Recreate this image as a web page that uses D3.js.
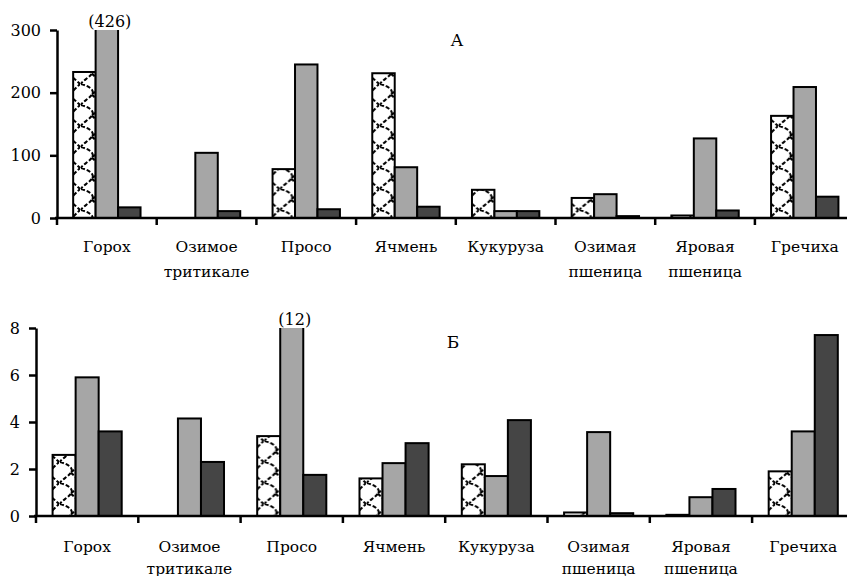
<!DOCTYPE html>
<html>
<head>
<meta charset="utf-8">
<script src="https://cdnjs.cloudflare.com/ajax/libs/d3/7.8.5/d3.min.js"></script>
<style>
  html, body { margin: 0; padding: 0; background: #fff; }
  svg { display: block; }
  text { font-family: "DejaVu Serif", "Liberation Serif", serif; fill: #000; }
</style>
</head>
<body>
<svg id="chart" width="847" height="576"></svg>
<script>
// Crops (categories)
const categories = [
  ["Горох"], ["Озимое", "тритикале"], ["Просо"], ["Ячмень"],
  ["Кукуруза"], ["Озимая", "пшеница"], ["Яровая", "пшеница"], ["Гречиха"]
];
const seriesKeys = ["s1", "s2", "s3"];

// Panel А values
const panelA_s1 = [233, 0, 78, 231, 45, 32, 4, 163];
const panelA_s2 = [426, 104, 245, 81, 11, 38, 127, 209];
const panelA_s3 = [17, 11, 14, 18, 11, 3, 12, 34];
const panelA_ticks = [0, 100, 200, 300];

// Panel Б values
const panelB_s1 = [2.6, 0, 3.4, 1.6, 2.2, 0.15, 0.05, 1.9];
const panelB_s2 = [5.9, 4.15, 12, 2.25, 1.7, 3.57, 0.8, 3.6];
const panelB_s3 = [3.6, 2.3, 1.75, 3.1, 4.08, 0.12, 1.15, 7.7];
const panelB_ticks = [0, 2, 4, 6, 8];

const svg = d3.select("#chart");
const defs = svg.append("defs");

// Wavy dashed scale-like hatching for the first series
const pat = defs.append("pattern")
  .attr("id", "scales")
  .attr("patternUnits", "userSpaceOnUse")
  .attr("width", 23).attr("height", 21);
pat.append("rect").attr("width", 23).attr("height", 21).attr("fill", "#fff");
pat.append("path")
  .attr("d", "M1,0 C9,2 15,6 12,10.5 C9,15 3,17 1,21")
  .attr("fill", "none").attr("stroke", "#000")
  .attr("stroke-width", 2).attr("stroke-dasharray", "4,2");
pat.append("path")
  .attr("d", "M12,10.5 C15,14 19,17 23,21 M12,10.5 C16,7 20,3 23,0")
  .attr("fill", "none").attr("stroke", "#000")
  .attr("stroke-width", 2).attr("stroke-dasharray", "4,2");

const fills = { s1: "url(#scales)", s2: "#a6a6a6", s3: "#454545" };

function drawPanel(cfg, id) {
  const g = svg.append("g");
  const data = categories.map((c, i) => ({
    cat: i, lines: c,
    s1: cfg.s1[i], s2: cfg.s2[i], s3: cfg.s3[i]
  }));

  const x0 = d3.scaleBand()
    .domain(d3.range(categories.length))
    .range([cfg.left, cfg.left + cfg.step * categories.length])
    .paddingInner(0).paddingOuter(0);
  const x1 = d3.scaleBand()
    .domain(seriesKeys)
    .range([0, x0.bandwidth()])
    .paddingInner(0).paddingOuter(0.72);
  const y = d3.scaleLinear()
    .domain([0, cfg.max])
    .range([cfg.base, cfg.top]);

  // bars taller than the axis are cut off at its top
  defs.append("clipPath").attr("id", "clip-" + id)
    .append("rect")
    .attr("x", 0).attr("width", 847)
    .attr("y", cfg.top).attr("height", cfg.base - cfg.top + 10);

  const barLayer = g.append("g").attr("clip-path", `url(#clip-${id})`);
  const groups = barLayer.selectAll("g.grp").data(data).join("g")
    .attr("transform", d => `translate(${x0(d.cat)},0)`);
  groups.selectAll("rect")
    .data(d => seriesKeys.map(k => ({ key: k, value: d[k] })).filter(e => e.value > 0))
    .join("rect")
    .attr("x", e => x1(e.key))
    .attr("width", x1.bandwidth())
    .attr("y", e => y(e.value))
    .attr("height", e => y(0) - y(e.value))
    .attr("fill", e => fills[e.key])
    .attr("stroke", "#000")
    .attr("stroke-width", 2);

  // value note for the bar that runs past the axis
  data.forEach(d => {
    seriesKeys.forEach(k => {
      if (d[k] > cfg.max) {
        g.append("text")
          .attr("x", x0(d.cat) + x1(k) + x1.bandwidth() / 2 + 3)
          .attr("y", cfg.top - 3)
          .attr("text-anchor", "middle")
          .attr("font-size", 16)
          .text(`(${d[k]})`);
      }
    });
  });

  // y axis
  const yAxis = g.append("g")
    .attr("transform", `translate(${cfg.left},0)`)
    .call(d3.axisLeft(y).tickValues(cfg.ticks).tickSize(7).tickPadding(9).tickSizeOuter(0));
  yAxis.select(".domain").attr("stroke", "#000").attr("stroke-width", 2.5);
  yAxis.selectAll(".tick line").attr("stroke", "#000").attr("stroke-width", 2.5);
  yAxis.selectAll(".tick text")
    .attr("font-family", "DejaVu Serif, serif").attr("font-size", 16).attr("fill", "#000");

  // x axis: baseline with ticks at category boundaries
  const bounds = d3.range(categories.length).map(i => x0(i));
  const xAxis = g.append("g");
  xAxis.append("line")
    .attr("x1", cfg.left - 2).attr("x2", cfg.left + cfg.step * categories.length)
    .attr("y1", y(0)).attr("y2", y(0))
    .attr("stroke", "#000").attr("stroke-width", 2.5);
  xAxis.selectAll("line.tk").data(bounds).join("line")
    .attr("class", "tk")
    .attr("x1", d => d).attr("x2", d => d)
    .attr("y1", y(0)).attr("y2", y(0) + 7)
    .attr("stroke", "#000").attr("stroke-width", 2.5);

  // category labels
  const lab = g.selectAll("text.cat").data(data).join("text")
    .attr("class", "cat")
    .attr("text-anchor", "middle")
    .attr("font-size", 15.5)
    .attr("transform", d => `translate(${x0(d.cat) + x0.bandwidth() / 2},${cfg.labelY})`);
  lab.selectAll("tspan").data(d => d.lines).join("tspan")
    .attr("x", 0)
    .attr("y", (t, i) => i * cfg.lineGap)
    .text(t => t);

  // panel letter
  g.append("text")
    .attr("x", cfg.titleX).attr("y", cfg.titleY)
    .attr("text-anchor", "middle")
    .attr("font-size", 17)
    .text(cfg.title);
}

drawPanel({
  s1: panelA_s1, s2: panelA_s2, s3: panelA_s3, ticks: panelA_ticks,
  max: 300, left: 57, step: 99.7, top: 30, base: 218,
  labelY: 252, lineGap: 24.5, title: "А", titleX: 457, titleY: 46
}, "a");

drawPanel({
  s1: panelB_s1, s2: panelB_s2, s3: panelB_s3, ticks: panelB_ticks,
  max: 8, left: 36, step: 102.3, top: 328, base: 516,
  labelY: 552, lineGap: 21.5, title: "Б", titleX: 453, titleY: 348
}, "b");
</script>
</body>
</html>
